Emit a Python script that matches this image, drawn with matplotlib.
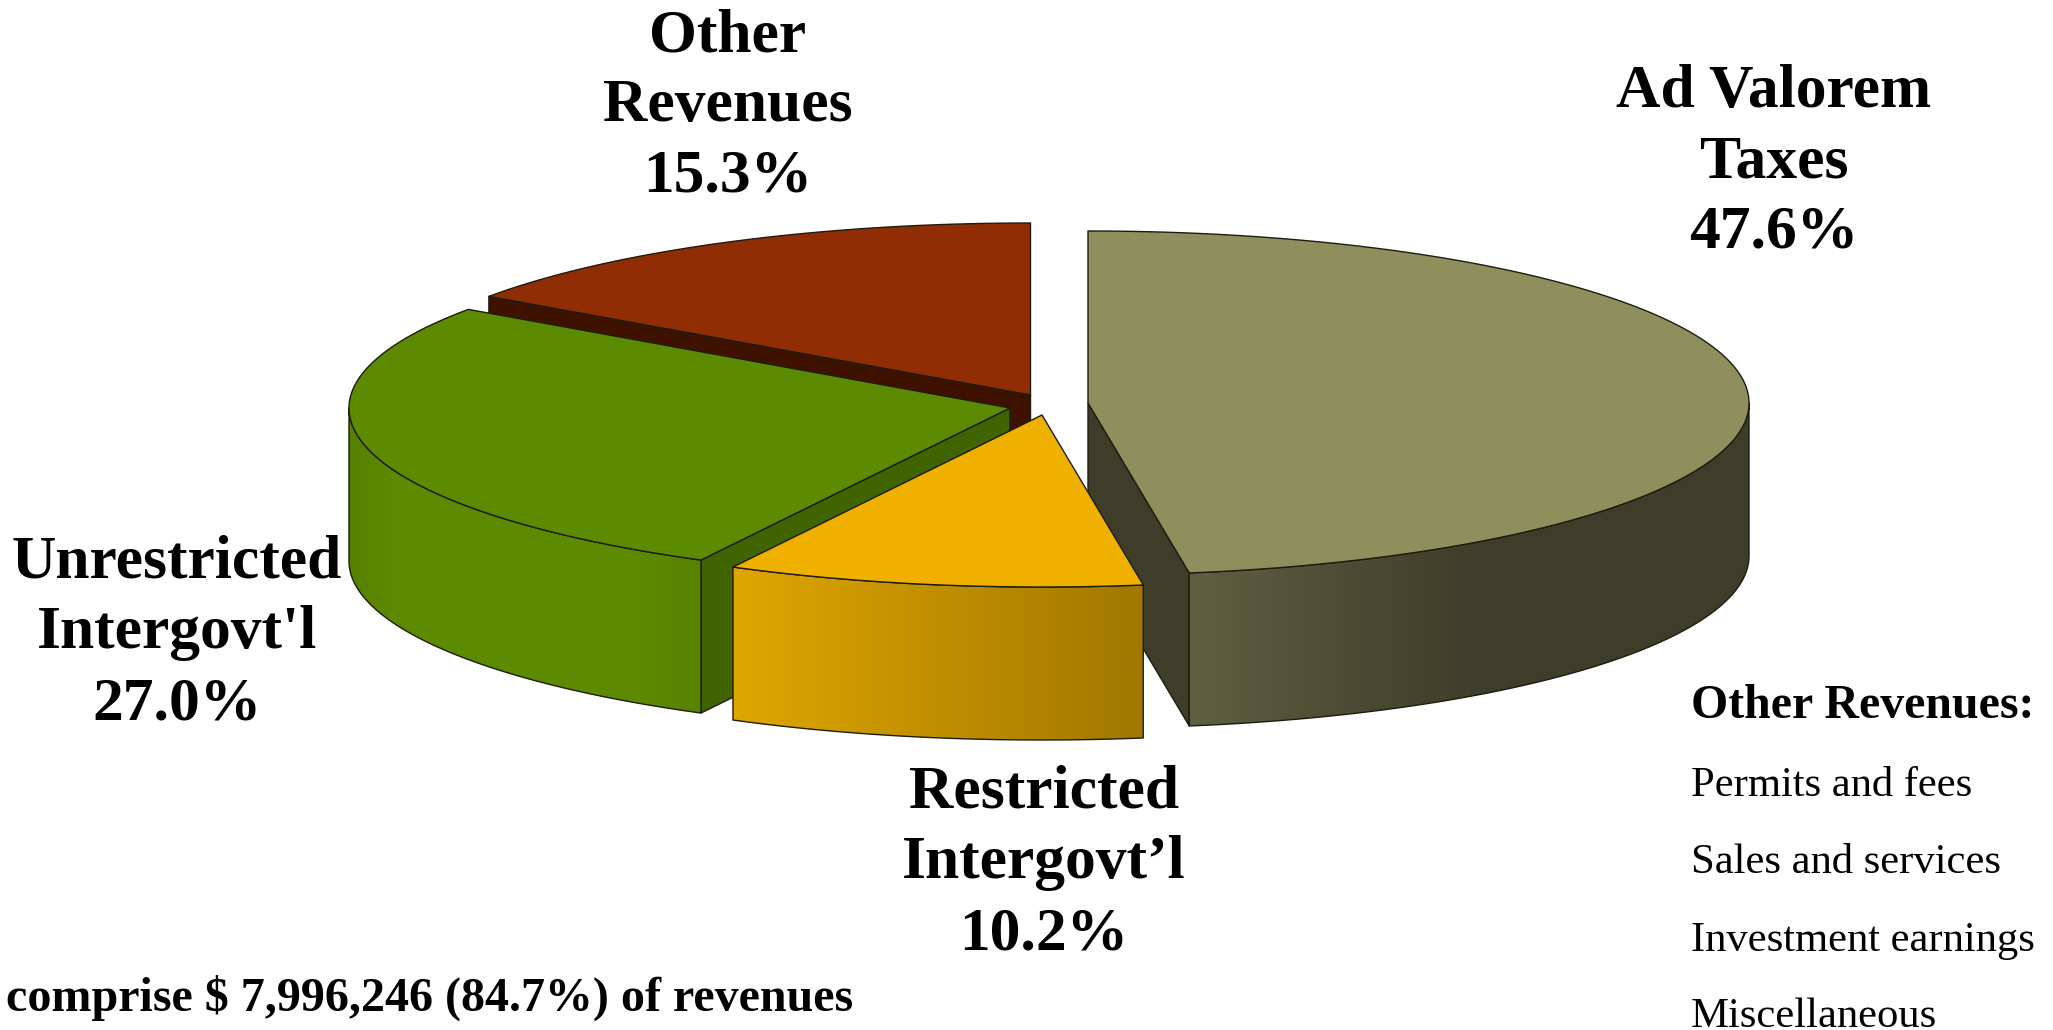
import numpy as np
import matplotlib
matplotlib.use("Agg")
import matplotlib.pyplot as plt
from matplotlib.patches import Polygon
from matplotlib.colors import to_rgb

categories = ["Ad Valorem Taxes", "Restricted Intergovt'l", "Unrestricted Intergovt'l", "Other Revenues"]
shares = [47.6, 10.2, 27.0, 15.3]
other_items = ["Permits and fees", "Sales and services", "Investment earnings", "Miscellaneous"]

centers = [(1088, 403), (1042, 415), (1010, 408), (1030.5, 395)]
top_colors = ["#8F8F5E", "#EFB000", "#5C8A00", "#902D04"]
side_colors = ["#3D3D2A", None, "#3F6400", "#3F1200"]
RX, RY, DEPTH = 661, 172, 153
W, H = 2053, 1030

plt.rcParams['font.family'] = ['Liberation Serif', 'DejaVu Serif']
fig = plt.figure(figsize=(W / 100, H / 100), dpi=100)
ax = fig.add_axes([0, 0, 1, 1])
ax.set_xlim(0, W)
ax.set_ylim(H, 0)
ax.axis('off')

total = sum(shares)
edges = np.concatenate([[0], np.cumsum(shares)]) / total * 2 * np.pi


def rim(c, t):
    return c[0] + RX * np.sin(t), c[1] - RY * np.cos(t)


def gradient_fill(poly, x0, x1, stops, z):
    p = Polygon(poly, closed=True, fc='none', ec='none', zorder=z)
    ax.add_patch(p)
    xs = np.linspace(0, 1, 256)
    pos = [s[0] for s in stops]
    cols = np.array([to_rgb(s[1]) for s in stops])
    img = np.stack([np.interp(xs, pos, cols[:, k]) for k in range(3)], axis=1)[None, :, :]
    y0, y1 = poly[:, 1].min(), poly[:, 1].max()
    im = ax.imshow(img, extent=[x0, x1, y1, y0], aspect='auto', zorder=z, interpolation='bilinear')
    im.set_clip_path(p)
    ax.set_xlim(0, W)
    ax.set_ylim(H, 0)


wall_stops = {
    0: [(0, "#5F5F41"), (0.5, "#3E3E2A"), (1, "#3D3D29")],
    1: [(0, "#E0A600"), (1, "#A07800")],
    2: [(0, "#568000"), (0.12, "#5C8A00"), (0.8, "#5C8A00"), (1, "#578300")],
}
edge = dict(ec="#1c1c10", lw=1.0, joinstyle='round')
draw_order = [3, 2, 0, 1]
for n, i in enumerate(draw_order):
    z = 2 + n * 3
    c = centers[i]
    t0, t1 = edges[i], edges[i + 1]
    # cut face that faces the viewer
    cut = {0: t1, 2: t0, 3: t0}.get(i)
    if cut is not None:
        rx_, ry_ = rim(c, cut)
        poly = np.array([c, (rx_, ry_), (rx_, ry_ + DEPTH), (c[0], c[1] + DEPTH)])
        ax.add_patch(Polygon(poly, closed=True, fc=side_colors[i], zorder=z, **edge))
    # outer wall
    a, b = max(t0, np.pi / 2), min(t1, 3 * np.pi / 2)
    if a < b and i in wall_stops:
        t = np.linspace(a, b, 200)
        x, y = rim(c, t)
        poly = np.column_stack([np.r_[x, x[::-1]], np.r_[y, y[::-1] + DEPTH]])
        gradient_fill(poly, x.min(), x.max(), wall_stops[i], z + 1)
        ax.add_patch(Polygon(poly, closed=True, fc='none', zorder=z + 1, **edge))
    # top face
    t = np.linspace(t0, t1, 300)
    x, y = rim(c, t)
    poly = np.column_stack([np.r_[c[0], x], np.r_[c[1], y]])
    ax.add_patch(Polygon(poly, closed=True, fc=top_colors[i], zorder=z + 2, **edge))

FS = 44.3
big = dict(fontsize=FS, fontweight='bold', ha='center', va='center', color='black', zorder=30)
label_lines = [
    (1774, [(92, "Ad Valorem"), (162, "Taxes"), (233, f"{shares[0]:.1f}%")]),
    (1044, [(792, "Restricted"), (863, "Intergovt\u2019l"), (934, f"{shares[1]:.1f}%")]),
    (177, [(562, "Unrestricted"), (633, "Intergovt'l"), (704, f"{shares[2]:.1f}%")]),
    (728, [(36, "Other"), (106, "Revenues"), (177, f"{shares[3]:.1f}%")]),
]
for xc, lines in label_lines:
    for yc, s in lines:
        ax.text(xc, yc, s, **big)

ax.text(6, 998, "comprise $ 7,996,246 (84.7%) of revenues", fontsize=34.6, fontweight='bold',
        ha='left', va='center', zorder=30)
ax.text(1691, 706, "Other Revenues:", fontsize=34.5, fontweight='bold', ha='left', va='center', zorder=30)
for y, s in zip([786, 863, 941, 1017], other_items):
    ax.text(1691, y, s, fontsize=30.7, ha='left', va='center', zorder=30)

fig.savefig("out.png", dpi=100, facecolor='white')
